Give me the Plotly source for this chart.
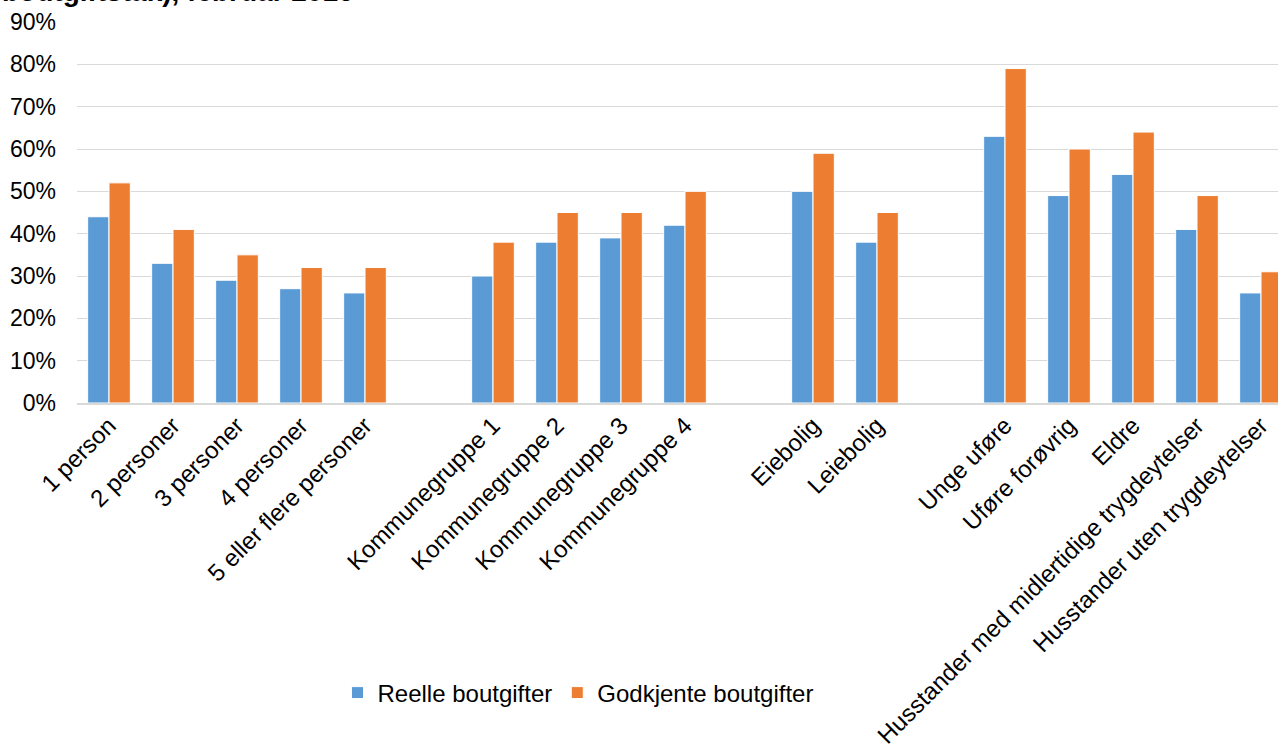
import plotly.graph_objects as go

categories = ["1 person", "2 personer", "3 personer", "4 personer", "5 eller flere personer", " ",
              "Kommunegruppe 1", "Kommunegruppe 2", "Kommunegruppe 3", "Kommunegruppe 4", "  ",
              "Eiebolig", "Leiebolig", "   ",
              "Unge uføre", "Uføre forøvrig", "Eldre",
              "Husstander med midlertidige trygdeytelser", "Husstander uten trygdeytelser"]
reelle = [0.44, 0.33, 0.29, 0.27, 0.26, None,
          0.30, 0.38, 0.39, 0.42, None,
          0.50, 0.38, None,
          0.63, 0.49, 0.54, 0.41, 0.26]
godkjente = [0.52, 0.41, 0.35, 0.32, 0.32, None,
             0.38, 0.45, 0.45, 0.50, None,
             0.59, 0.45, None,
             0.79, 0.60, 0.64, 0.49, 0.31]
y_ticks = [0, 0.1, 0.2, 0.3, 0.4, 0.5, 0.6, 0.7, 0.8, 0.9]
title_text = "boutgiftstak), februar 2016"

FONT = "Liberation Sans, Arial, sans-serif"

fig = go.Figure()
fig.add_trace(go.Bar(x=categories, y=reelle, name="Reelle boutgifter",
                     marker=dict(color="#5B9BD5", line=dict(color="white", width=1))))
fig.add_trace(go.Bar(x=categories, y=godkjente, name="Godkjente boutgifter",
                     marker=dict(color="#ED7D31", line=dict(color="white", width=1))))

L, T, W, H = 77, 22, 1278, 747
ZERO_Y = 403
plot_h = ZERO_Y - T

fig.update_layout(
    width=W, height=H,
    margin=dict(l=L, r=0, t=T, b=H - ZERO_Y, autoexpand=False),
    paper_bgcolor="white", plot_bgcolor="white",
    barmode="group", bargap=0.333, bargroupgap=0,
    font=dict(family=FONT, size=24, color="#000000"),
    showlegend=True,
    legend=dict(orientation="h", x=(578 - L) / (W - L), xanchor="center",
                y=(ZERO_Y - 693) / plot_h, yanchor="middle",
                font=dict(size=24), itemwidth=30, tracegroupgap=0),
    xaxis=dict(type="category", range=[-0.5, (W - L) / 64 - 0.5],
               tickangle=-45, showgrid=False, ticks="", showline=True,
               linecolor="#D9D9D9", linewidth=2, tickfont=dict(size=24),
               ticklabelstandoff=-3),
    yaxis=dict(range=[0, 0.9], tickvals=y_ticks, tickformat=".0%",
               showgrid=True, gridcolor="#D9D9D9", gridwidth=1,
               zeroline=False, ticks="", showline=False,
               tickfont=dict(size=23), ticklabelstandoff=20),
    annotations=[dict(text="<b>" + title_text + "</b>", xref="paper", yref="paper",
                      x=-L / (W - L), xanchor="left", y=(ZERO_Y - 9) / plot_h, yanchor="bottom",
                      showarrow=False, font=dict(size=28, family=FONT, color="#000000"))],
)

fig.write_html("out.html",
               config={"displayModeBar": False},
               post_script="document.body.style.margin='0';document.body.style.overflow='hidden';")
